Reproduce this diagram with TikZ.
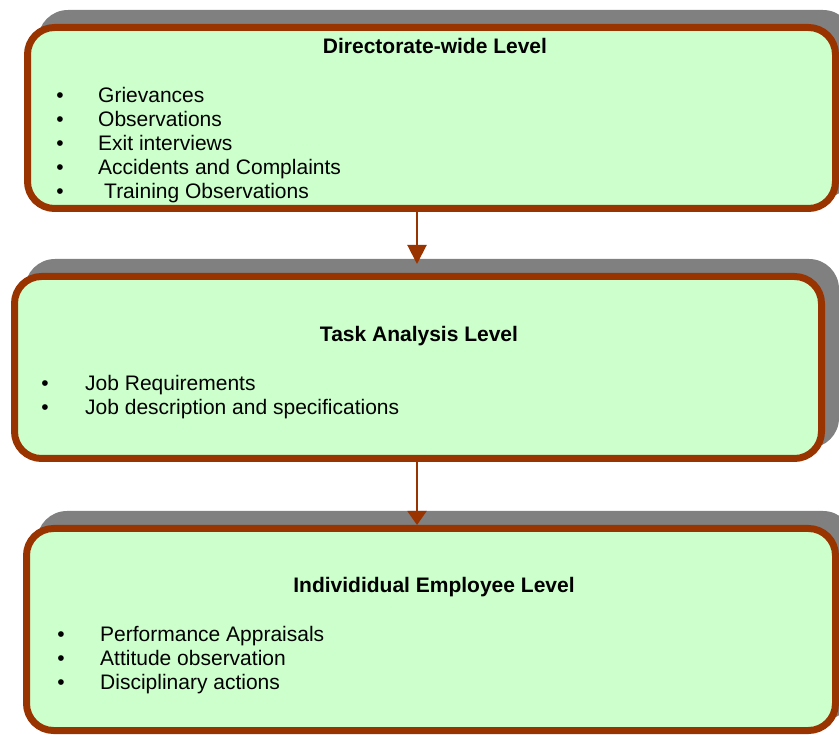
\documentclass[tikz,border=0pt]{standalone}
\usepackage{fontspec}
\setmainfont{Liberation Sans}
\usetikzlibrary{arrows.meta}
\definecolor{boxfill}{HTML}{CCFFCC}
\definecolor{boxline}{HTML}{993300}
\definecolor{shadowc}{HTML}{808080}
\begin{document}
\begin{tikzpicture}[x=1pt,y=-1pt,
  box/.style={draw=boxline, fill=boxfill, line width=7pt, rounded corners=27pt, inner sep=0pt},
  shadowbox/.style={fill=shadowc, rounded corners=30pt},
  titletext/.style={font=\fontsize{21}{24}\selectfont\bfseries, anchor=base, inner sep=0pt},
  itemtext/.style={font=\fontsize{21}{24}\selectfont, anchor=base west, inner sep=0pt},
  bul/.style={font=\fontsize{21}{24}\selectfont, anchor=base, inner sep=0pt},
  arr/.style={draw=boxline, line width=2pt}]
\useasboundingbox (0,0) rectangle (839,735);
\begin{scope}
\clip (0,0) rectangle (839,735);
% shadows
\fill[shadowbox] (38,10) rectangle (853,198);
\fill[shadowbox] (25,259) rectangle (839,448);
\fill[shadowbox] (37,511) rectangle (853,720);
% boxes
\node[box, minimum width=808pt, minimum height=181pt] (b1) at (431.5,118) {};
\node[box, minimum width=807pt, minimum height=182pt] (b2) at (418,367.5) {};
\node[box, minimum width=809pt, minimum height=202pt] (b3) at (431,629.5) {};
% arrows
\coordinate (a1) at (417,264);
\coordinate (a2) at (417,525);
\draw[arr, -{Triangle[length=19pt,width=19pt]}] (b1.south -| a1) -- (a1);
\draw[arr, -{Triangle[length=14pt,width=19pt]}] (b2.south -| a2) -- (a2);
% box 1 text
\node[titletext] (t1) at (435,53.5) {Directorate-wide Level};
\node[bul] (d11) at (60,102.5) {•};
\node[bul] (d12) at (60,126.5) {•};
\node[bul] (d13) at (60,150.5) {•};
\node[bul] (d14) at (60,174.5) {•};
\node[bul] (d15) at (60,198.5) {•};
\node[itemtext] (i11) at (98,102.5) {Grievances};
\node[itemtext] (i12) at (98,126.5) {Observations};
\node[itemtext] (i13) at (98,150.5) {Exit interviews};
\node[itemtext] (i14) at (98,174.5) {Accidents and Complaints};
\node[itemtext] (i15) at (104,198.5) {Training Observations};
% box 2 text
\node[titletext] (t2) at (419,341.5) {Task Analysis Level};
\node[bul] (d21) at (45,390.5) {•};
\node[bul] (d22) at (45,414.5) {•};
\node[itemtext] (i21) at (85,390.5) {Job Requirements};
\node[itemtext] (i22) at (85,414.5) {Job description and specifications};
% box 3 text
\node[titletext] (t3) at (434,592.5) {Individidual Employee Level};
\node[bul] (d31) at (61,641.5) {•};
\node[bul] (d32) at (61,665.5) {•};
\node[bul] (d33) at (61,689.5) {•};
\node[itemtext] (i31) at (100,641.5) {Performance Appraisals};
\node[itemtext] (i32) at (100,665.5) {Attitude observation};
\node[itemtext] (i33) at (100,689.5) {Disciplinary actions};
\end{scope}
\end{tikzpicture}
\end{document}
